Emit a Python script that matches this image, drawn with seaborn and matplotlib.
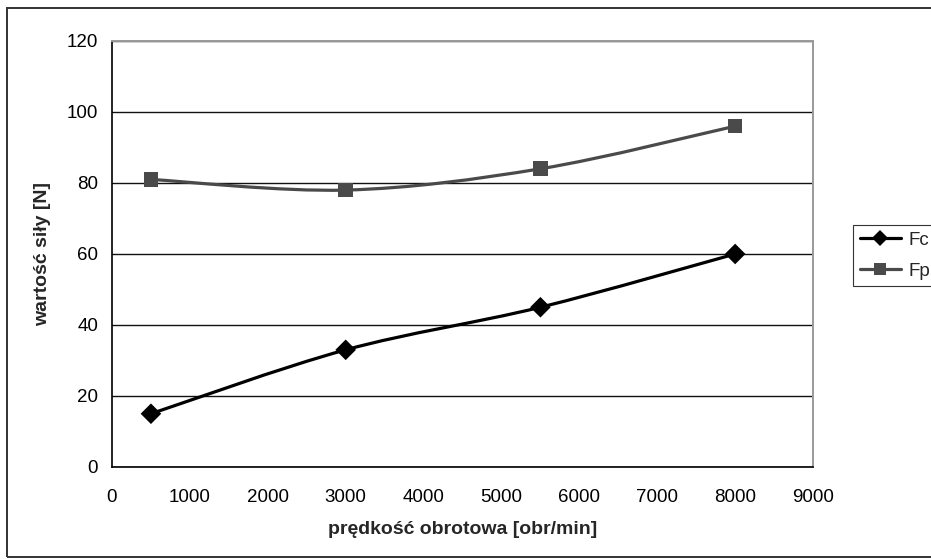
import numpy as np
import pandas as pd
import matplotlib
matplotlib.use('Agg')
import matplotlib.pyplot as plt
import seaborn as sns
from matplotlib.path import Path
from matplotlib.patches import PathPatch, Rectangle
from matplotlib.lines import Line2D

# data
speed = [500, 3000, 5500, 8000]  # obr/min
fc = [15, 33, 45, 60]
fp = [81, 78, 84, 96]
y_ticks = [0, 20, 40, 60, 80, 100, 120]
x_ticks = [0, 1000, 2000, 3000, 4000, 5000, 6000, 7000, 8000, 9000]

sns.set_style('white')
plt.rcParams['font.family'] = ['Liberation Sans', 'DejaVu Sans']

fig = plt.figure(figsize=(9.31, 5.59), dpi=100)
ax = fig.add_axes([0.1203, 0.1646, 0.753, 0.7621])

df = pd.DataFrame({'speed': speed * 2, 'force': fc + fp,
                   'series': ['Fc'] * 4 + ['Fp'] * 4})


def smooth_path(xs, ys):
    # Excel-like smoothed line: cubic Bezier segments (Catmull-Rom, tension 1/6)
    pts = np.column_stack([xs, ys]).astype(float)
    n = len(pts)
    verts = [pts[0]]
    codes = [Path.MOVETO]
    for i in range(n - 1):
        p0 = pts[max(i - 1, 0)]
        p1 = pts[i]
        p2 = pts[i + 1]
        p3 = pts[min(i + 2, n - 1)]
        c1 = p1 + (p2 - p0) / 6
        c2 = p2 - (p3 - p1) / 6
        verts += [c1, c2, p2]
        codes += [Path.CURVE4] * 3
    return Path(verts, codes)


colors = {'Fc': 'black', 'Fp': '#4a4a4a'}
markers = {'Fc': 'D', 'Fp': 's'}

for name, vals in [('Fc', fc), ('Fp', fp)]:
    ax.add_patch(PathPatch(smooth_path(speed, vals), facecolor='none',
                           edgecolor=colors[name], lw=2.3, zorder=3))

sns.scatterplot(data=df, x='speed', y='force', hue='series', style='series',
                palette=colors, markers=markers, s=110, edgecolor='none',
                legend=False, ax=ax, zorder=4)

ax.set_xlim(0, 9000)
ax.set_ylim(0, 120)
ax.set_xticks(x_ticks)
ax.set_yticks(y_ticks)
ax.yaxis.grid(True, color='#111111', lw=1.0)
ax.xaxis.grid(False)
ax.tick_params(direction='out', width=1, colors='black', labelsize=13.5)
ax.tick_params(axis='y', length=5, pad=5)
ax.tick_params(axis='x', length=4, pad=12)
for s in ['left', 'bottom']:
    ax.spines[s].set_color('black')
    ax.spines[s].set_linewidth(1.2)
for s in ['top', 'right']:
    ax.spines[s].set_color('#999999')
    ax.spines[s].set_linewidth(1.4)

ax.set_xlabel('prędkość obrotowa [obr/min]', fontsize=14, fontweight='bold',
              labelpad=11)
ax.set_ylabel('wartość siły [N]', fontsize=14, fontweight='bold', labelpad=11)

handles = [Line2D([], [], color=colors[k], lw=2.3, marker=markers[k],
                  markersize=8 if k == 'Fc' else 8.5, markeredgewidth=0)
           for k in ['Fc', 'Fp']]
leg = fig.legend(handles, ['Fc', 'Fp'], loc='upper left',
                 bbox_to_anchor=(853 / 931, 1 - 225 / 559), fontsize=13.5,
                 frameon=True, fancybox=False, edgecolor='black',
                 handlelength=2.2, handletextpad=0.4, borderpad=0.35,
                 labelspacing=0.75, borderaxespad=0)
leg.get_frame().set_linewidth(0.8)

# outer chart frame
fig.patches.append(Rectangle((7 / 931, 2 / 559), 1.0, 1 - 10 / 559,
                             transform=fig.transFigure, fill=False,
                             edgecolor='#333333', lw=1.4))

fig.savefig('out.png', dpi=100)
